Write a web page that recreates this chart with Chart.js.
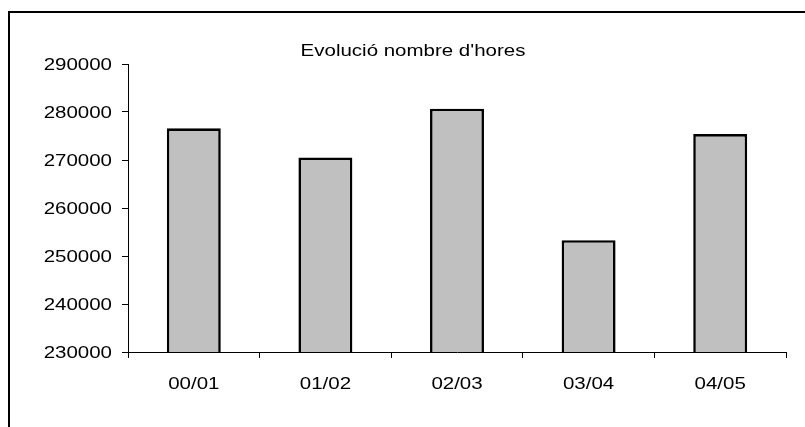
<!DOCTYPE html>
<html>
<head>
<meta charset="utf-8">
<script src="https://cdn.jsdelivr.net/npm/chart.js@4/dist/chart.umd.min.js"></script>
<style>
  html, body { margin: 0; padding: 0; background: #fff; }
  canvas { display: block; }
</style>
</head>
<body>
<canvas id="c" width="805" height="427"></canvas>
<script>
// Academic years and yearly totals of hours
const categories = ['00/01', '01/02', '02/03', '03/04', '04/05'];
const hours = [276600, 270500, 280700, 253300, 275400];
const yTicks = [230000, 240000, 250000, 260000, 270000, 280000, 290000];
const chartTitle = "Evolució nombre d'hores";

const FONT = '16px "Liberation Sans", Arial, sans-serif';
const STRETCH = 1.28; // wide lettering used for all chart text

function wideText(ctx, text, x, y, align) {
  ctx.save();
  ctx.translate(x, y);
  ctx.scale(STRETCH, 1);
  ctx.font = FONT;
  ctx.fillStyle = '#000';
  ctx.textAlign = align;
  ctx.textBaseline = 'alphabetic';
  ctx.fillText(text, 0, 0);
  ctx.restore();
}

// Outer frame, title and axis labels
const decor = {
  id: 'decor',
  beforeDraw(chart) {
    const ctx = chart.ctx;
    ctx.save();
    ctx.fillStyle = '#fff';
    ctx.fillRect(0, 0, chart.width, chart.height);
    ctx.strokeStyle = '#000';
    ctx.lineWidth = 2;
    ctx.beginPath();
    ctx.moveTo(chart.width + 2, 12);
    ctx.lineTo(9, 12);
    ctx.lineTo(9, chart.height + 2);
    ctx.stroke();
    ctx.restore();
  },
  afterDraw(chart) {
    const ctx = chart.ctx;
    const x = chart.scales.x, y = chart.scales.y;
    wideText(ctx, chartTitle, 413, 56, 'center');
    yTicks.forEach(v => {
      wideText(ctx, String(v), 112, y.getPixelForValue(v) + 6, 'right');
    });
    categories.forEach((c, i) => {
      wideText(ctx, c, x.getPixelForValue(i), 389, 'center');
    });
  }
};

new Chart(document.getElementById('c'), {
  type: 'bar',
  data: {
    labels: categories,
    datasets: [{
      data: hours,
      backgroundColor: '#C0C0C0',
      borderColor: '#000',
      borderWidth: 2.6,
      categoryPercentage: 1,
      barPercentage: 0.41
    }]
  },
  options: {
    responsive: false,
    animation: false,
    devicePixelRatio: 1,
    layout: { padding: { left: 0, top: 64, right: 19, bottom: 0 } },
    plugins: {
      legend: { display: false },
      title: { display: false },
      tooltip: { enabled: false }
    },
    scales: {
      x: {
        offset: true,
        grid: {
          offset: true,
          drawOnChartArea: false,
          drawTicks: true,
          tickLength: 6,
          color: '#000',
          lineWidth: 1
        },
        border: { display: true, color: '#000', width: 1 },
        ticks: { display: false },
        afterFit(scale) { scale.height = 75; }
      },
      y: {
        min: 230000,
        max: 290000,
        grid: {
          drawOnChartArea: false,
          drawTicks: true,
          tickLength: 6,
          color: '#000',
          lineWidth: 1
        },
        border: { display: true, color: '#000', width: 1 },
        ticks: { display: false, stepSize: 10000 },
        afterFit(scale) { scale.width = 128; }
      }
    }
  },
  plugins: [decor]
});
</script>
</body>
</html>
